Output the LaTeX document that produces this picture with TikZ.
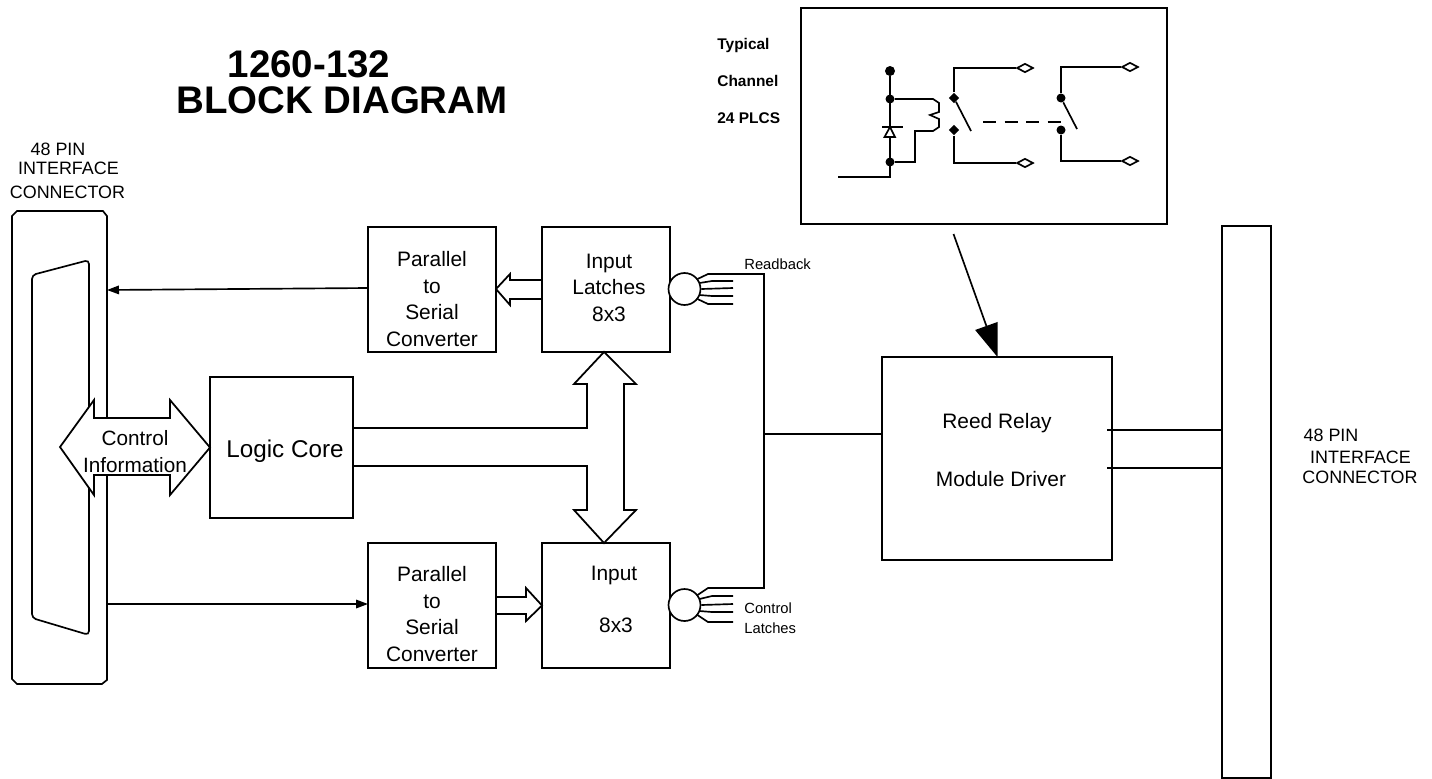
\documentclass[tikz,border=0pt]{standalone}
\usepackage{fontspec}
\setmainfont{Liberation Sans}
\usetikzlibrary{positioning,arrows.meta,shapes.geometric,calc}
\tikzset{
  block/.style={rectangle,draw=black,line width=0.95pt,outer sep=0pt,inner sep=0pt},
  lbl/.style={align=center,inner sep=0pt,font=\fontsize{11.9}{15.1}\selectfont},
  smalllbl/.style={align=left,inner sep=0pt,font=\fontsize{8.4}{11.5}\selectfont},
  conlbl/.style={align=center,inner sep=0pt,font=\fontsize{10.2}{12.4}\selectfont},
  boldlbl/.style={align=left,inner sep=0pt,font=\fontsize{8.8}{21}\selectfont\bfseries},
  wire/.style={line width=0.95pt},
  thinarrow/.style={-{Triangle[length=2.4mm,width=1.7mm]},line width=0.95pt},
  bigarrow/.style={-{Triangle[length=6.6mm,width=4.7mm]},line width=0.95pt},
  blockarrow/.style={draw=black,fill=white,line width=1pt,miter limit=4},
  jdot/.style={circle,fill=black,inner sep=0pt,minimum size=1.8mm},
  bigdot/.style={circle,fill=black,inner sep=0pt,minimum size=2mm},
  jdiam/.style={diamond,fill=black,inner sep=0pt,minimum width=2.1mm,minimum height=2.1mm},
  tdiam/.style={diamond,draw=black,fill=white,line width=0.95pt,inner sep=0pt,minimum width=3.3mm,minimum height=1.8mm},
  blob/.style={circle,draw=black,fill=white,line width=0.95pt,inner sep=0pt,minimum size=6.4mm}
}

\begin{document}
\begin{tikzpicture}[x=0.02cm,y=-0.02cm]
  \useasboundingbox (0,0) rectangle (1432,778);

  % blocks
  \node[inner sep=0pt,outer sep=0pt,minimum width=1.9cm,minimum height=9.46cm] (conn) at (59.5,447.5) {};
  \node[block,minimum width=2.56cm,minimum height=2.5cm] (p2sTop) at (432,289.5) {};
  \node[block,minimum width=2.56cm,minimum height=2.5cm] (latchTop) at (606,289.5) {};
  \node[block,minimum width=2.56cm,minimum height=2.5cm] (p2sBot) at (432,605.5) {};
  \node[block,minimum width=2.56cm,minimum height=2.5cm] (latchBot) at (606,605.5) {};
  \node[block,minimum width=2.86cm,minimum height=2.82cm] (logic) at (281.5,447.5) {};
  \node[block,minimum width=4.6cm,minimum height=4.06cm] (reed) at (997,458.5) {};
  \node[block,minimum width=0.98cm,minimum height=11.04cm] (bar) at (1246.5,502) {};
  \node[block,minimum width=7.32cm,minimum height=4.32cm] (typ) at (984,116) {};

  % connector outline and cut-out
  \draw[wire] (conn.north west) ++(0,5) -- ++(5,-5) -- ($(conn.north east)+(-4,0)$) -- ++(4,5) -- ($(conn.south east)+(0,-4)$) -- ++(-5,4) -- ($(conn.south west)+(5,0)$) -- ++(-5,-5) -- cycle;
  \draw[wire,rounded corners=0.8mm] (32,275) -- (89,260) -- (89,635) -- (32,618) -- cycle;

  % text
  \node[inner sep=0pt,font=\fontsize{21.9}{24}\selectfont\bfseries] (titleA) at (309,64) {1260-132};
  \node[inner sep=0pt,font=\fontsize{21.9}{24}\selectfont\bfseries] (titleB) at (342,100) {BLOCK DIAGRAM};
  \node[boldlbl,anchor=west] (typText) at (717,81) {Typical\\Channel\\24 PLCS};
  \node[conlbl] (pinL1) at (58,149) {48 PIN};
  \node[conlbl] (pinL2) at (68.5,168) {INTERFACE};
  \node[conlbl] (pinL3) at (67.5,192) {CONNECTOR};
  \node[conlbl] (pinR1) at (1331,435) {48 PIN};
  \node[conlbl] (pinR2) at (1360.5,457) {INTERFACE};
  \node[conlbl] (pinR3) at (1360,477) {CONNECTOR};
  \node[lbl] (p2sTopText) at (432,299) {Parallel\\to\\Serial\\Converter};
  \node[lbl] (p2sBotText) at (432,614) {Parallel\\to\\Serial\\Converter};
  \node[lbl] (latchTopText) at (609,287.5) {Input\\Latches\\8x3};
  \node[lbl] (inText) at (614,575) {Input};
  \node[lbl] (inSizeText) at (616,625) {8x3};
  \node[inner sep=0pt,font=\fontsize{13.8}{16}\selectfont] (logicText) at (285,451) {Logic Core};
  \node[lbl] (reedText) at (997,423) {Reed Relay};
  \node[lbl] (driverText) at (1001,479) {Module Driver};
  \node[smalllbl,anchor=west] (rbText) at (744,264) {Readback};
  \node[smalllbl,anchor=west] (clText) at (744,618) {Control\\Latches};

  % thin arrows
  \draw[thinarrow] (p2sTop.west |- 0,288) -- (conn.east |- 0,290);
  \draw[thinarrow] (conn.east |- 0,604) -- (p2sBot.west |- 0,604);
  \draw[bigarrow] (953.5,234) -- (reed.north -| 997.5,0);

  % block arrows
  \path[blockarrow] (latchTop.west |- 0,280) -- (510,280) -- (510,274) -- (p2sTop.east |- 0,289) -- (510,305) -- (510,299) -- (latchTop.west |- 0,299) -- cycle;
  \path[blockarrow] (p2sBot.east |- 0,597) -- (526,597) -- (526,588) -- (latchBot.west) -- (526,621) -- (526,614) -- (p2sBot.east |- 0,614) -- cycle;
  \path[blockarrow] (logic.west) -- (170,400) -- (170,418) -- (94,418) -- (94,400) -- (60,447) -- (94,495) -- (94,475) -- (170,475) -- (170,495) -- cycle;
  \node[lbl,font=\fontsize{11.8}{15.3}\selectfont] (ctrlText) at (135,451.5) {Control\\Information};

  % bus from the logic core
  \draw[blockarrow,fill=none] (logic.east |- 0,428) -- (587,428) -- (587,384) -- (574,384) -- (latchTop.south -| 604,0) -- (636,384) -- (624,384) -- (624,510) -- (636,510) -- (latchBot.north -| 604,0) -- (574,510) -- (587,510) -- (587,466) -- (logic.east |- 0,466);

  % readback and control wiring
  \draw[wire] (733,274) -- (764,274) -- (764,588) -- (733,588);
  \draw[wire] (764,434) -- (reed.west |- 0,434);
  \draw[wire] (1107,430) -- (bar.west |- 0,430);
  \draw[wire] (1107,468) -- (bar.west |- 0,468);
  \node[blob] (rbBlob) at (684.5,289) {};
  \node[blob] (clBlob) at (684.5,605) {};
  \draw[wire] (rbBlob) ++(13,-10) -- (708,274) -- (733,274);
  \draw[wire] (rbBlob) ++(15,-6) -- (712,281) -- (733,281);
  \draw[wire] (rbBlob.east) -- (733,288);
  \draw[wire] (rbBlob) ++(15,6) -- (712,296) -- (733,296);
  \draw[wire] (rbBlob) ++(13,10) -- (708,304) -- (733,304);
  \draw[wire] (clBlob) ++(13,-10) -- (708,588) -- (733,588);
  \draw[wire] (clBlob) ++(15,-6) -- (712,596) -- (733,596);
  \draw[wire] (clBlob.east) -- (733,604);
  \draw[wire] (clBlob) ++(15,6) -- (712,612) -- (733,612);
  \draw[wire] (clBlob) ++(13,10) -- (708,622) -- (733,622);

  % typical channel
  \node[bigdot] (coilTop) at (890,71) {};
  \node[jdot] (coilA) at (890,99) {};
  \node[jdot] (coilB) at (890,162) {};
  \node[jdiam] (swAtop) at (954,98) {};
  \node[jdiam] (swAbot) at (954,130) {};
  \node[jdot] (swBtop) at (1061,98) {};
  \node[jdot] (swBbot) at (1061,130) {};
  \node[tdiam] (termA) at (1025,68) {};
  \node[tdiam] (termB) at (1025,163) {};
  \node[tdiam] (termC) at (1130,67) {};
  \node[tdiam] (termD) at (1130,161) {};
  \coordinate (chanIn) at (838,177);
  \draw[wire,line width=1.2pt] (coilTop) -- (890,177) -- (chanIn);
  \draw[wire] (coilA) -- (933,99) -- (939,103) -- (939,112) -- (930,115) -- (939,119) -- (939,127) -- (933,131) -- (915,131) -- (915,162) -- (coilB);
  \draw[wire] (882,127) -- (903,127);
  \draw[wire,fill=white] (890,127) -- (895,137) -- (884.5,137) -- cycle;
  \draw[wire] (swAtop) |- (termA);
  \draw[wire] (swAbot) |- (termB);
  \draw[wire] (swBtop) |- (termC);
  \draw[wire] (swBbot) |- (termD);
  \draw[wire] (swAtop) -- (971,131);
  \draw[wire] (swBtop) -- (1077,129);
  \draw[wire,dash pattern=on 2.6mm off 1.7mm] (983,122) -- (1061,122);
\end{tikzpicture}
\end{document}
